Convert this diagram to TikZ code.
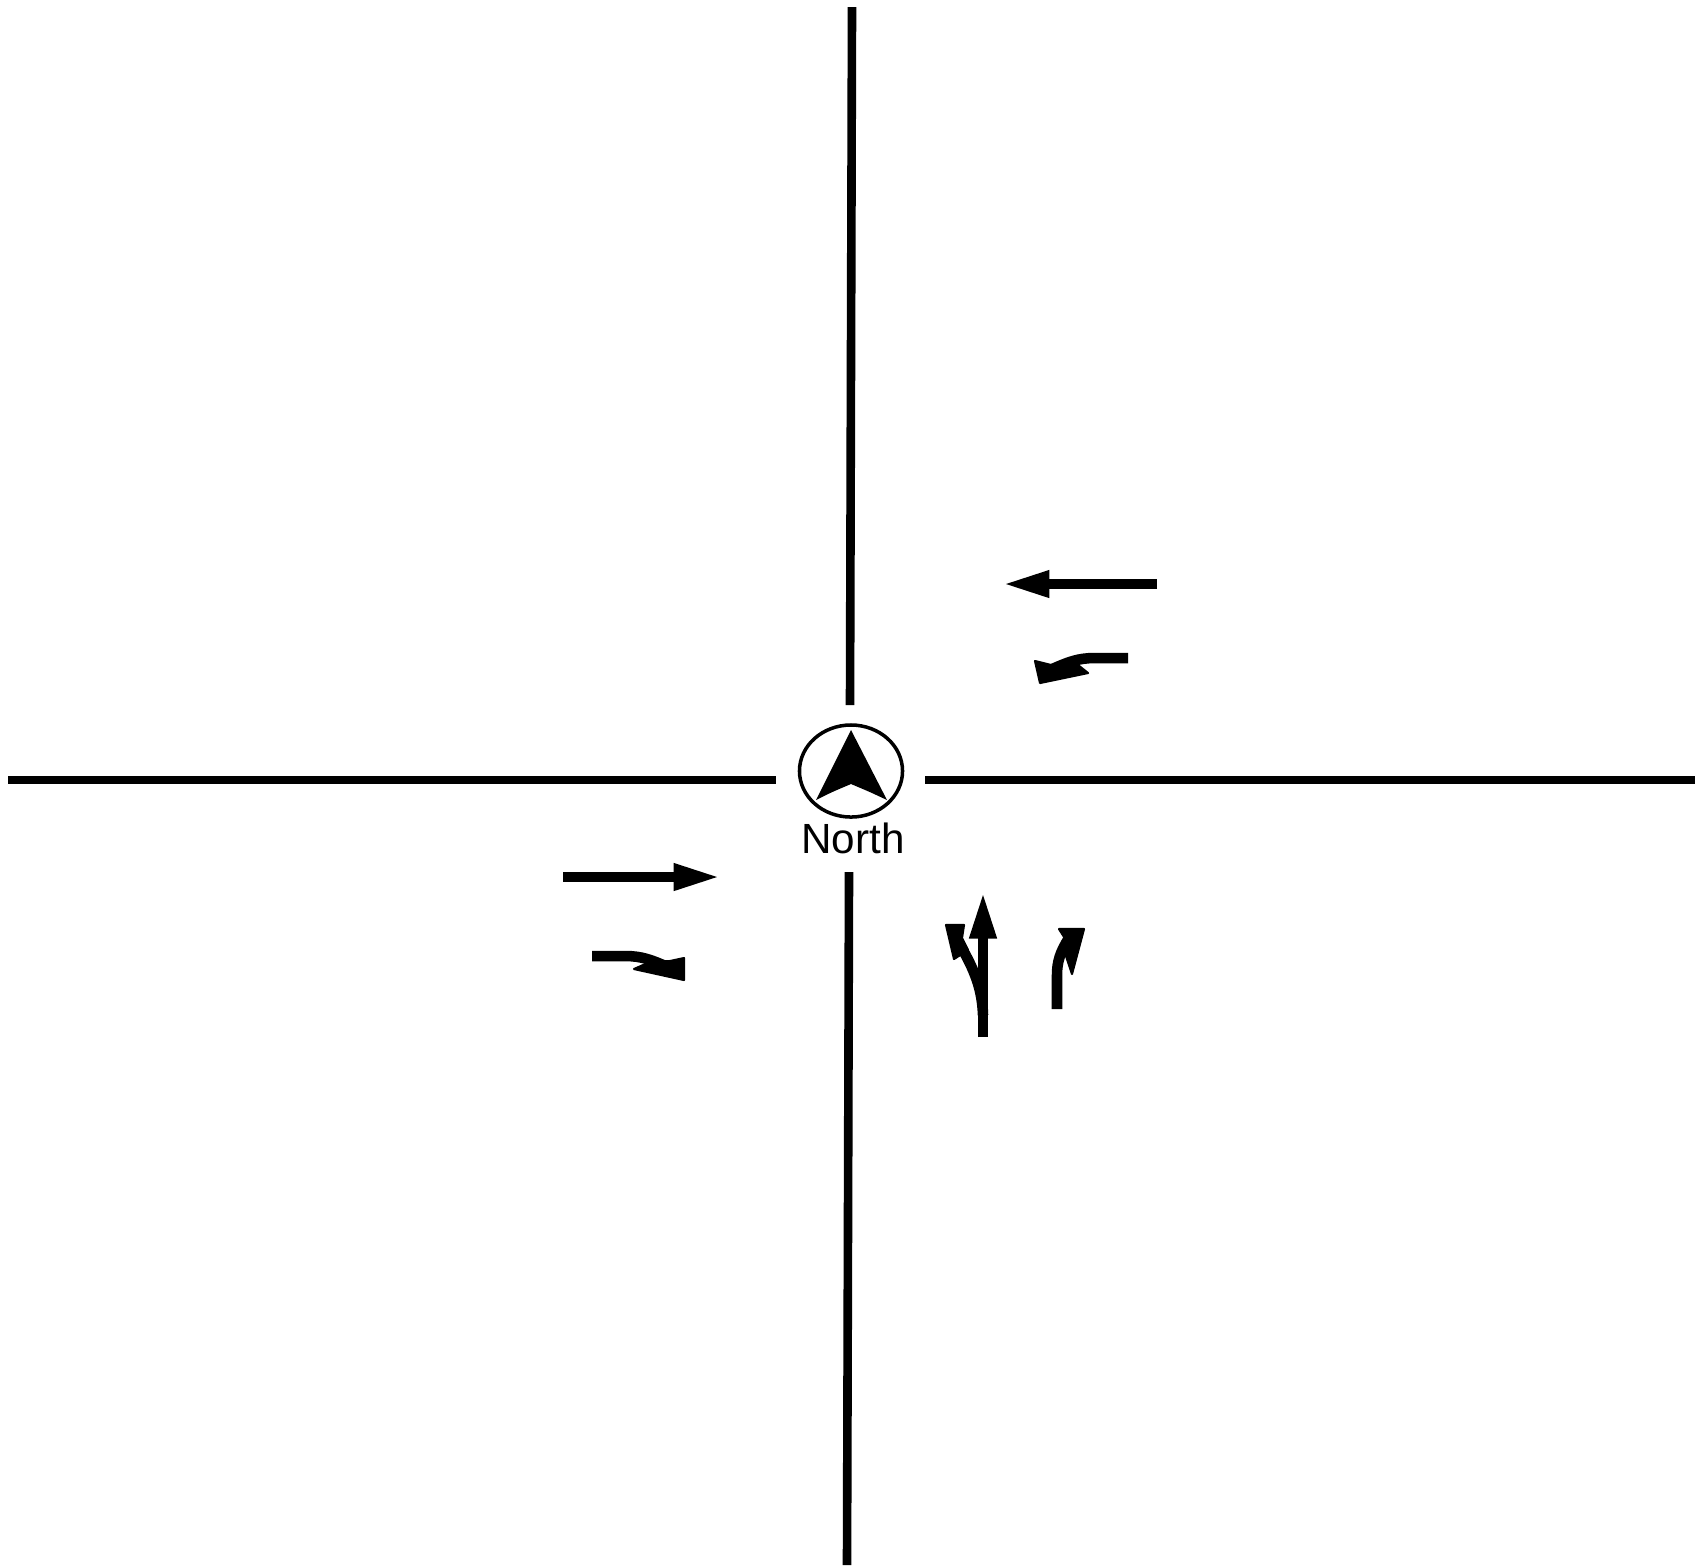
\documentclass[tikz,border=0pt]{standalone}
\usepackage{fontspec}
\setmainfont{Liberation Sans}
\usetikzlibrary{arrows.meta, shapes.geometric}

\begin{document}
\begin{tikzpicture}[x=0.01cm, y=-0.01cm]
  \tikzset{
    road_line/.style={line width=2.45pt, black},
    lane_line/.style={line width=3pt, black},
    lane_arrow/.style={lane_line, -{Triangle[length=13.5pt, width=7pt]}},
    turn_head/.style={fill=black, draw=black, line width=0.6pt, line join=round},
    compass_ring/.style={ellipse, draw, line width=1pt, minimum width=1.03cm, minimum height=0.92cm, inner sep=0pt},
    compass_label/.style={draw=none, fill=none, font=\fontsize{12pt}{13pt}\selectfont, inner sep=0pt}
  }

  % Bounding box
  \useasboundingbox (0,0) rectangle (1697,1565);

  % Road ends
  \coordinate (north_top) at (852,7);
  \coordinate (north_bottom) at (850,705);
  \coordinate (south_top) at (849,872);
  \coordinate (south_bottom) at (847,1565);
  \coordinate (west_left) at (8,780);
  \coordinate (west_right) at (776,780);
  \coordinate (east_left) at (925,780);
  \coordinate (east_right) at (1695,780);

  \draw[road_line] (north_top) -- (north_bottom);
  \draw[road_line] (south_top) -- (south_bottom);
  \draw[road_line] (west_left) -- (west_right);
  \draw[road_line] (east_left) -- (east_right);

  % Compass
  \node[compass_ring] (compass) at (851,771) {};
  \fill (851,730) -- (887,800) .. controls (870,792) .. (851,784) .. controls (832,792) .. (816,800) -- cycle;
  \node[compass_label] (north_label) at (853,838) {North};

  % Westbound lanes
  \coordinate (wb_tail) at (1157,584);
  \coordinate (wb_tip) at (1002,584);
  \draw[lane_arrow] (wb_tail) -- (wb_tip);
  \coordinate (wl_tail) at (1128,658);
  \draw[lane_line] (wl_tail) -- (1095,658) .. controls (1078,658) and (1068,662) .. (1050,670);
  \fill[turn_head] (1035,661) -- (1055,666) -- (1078,665) -- (1088,673) -- (1040,683) -- cycle;

  % Eastbound lanes
  \coordinate (eb_tail) at (563,877);
  \coordinate (eb_tip) at (721,877);
  \draw[lane_arrow] (eb_tail) -- (eb_tip);
  \coordinate (er_tail) at (592,956);
  \draw[lane_line] (er_tail) -- (625,956) .. controls (642,956) and (652,960) .. (670,968);
  \fill[turn_head] (684,958) -- (670,961) -- (650,962) -- (634,969) -- (684,980) -- cycle;

  % Northbound lanes
  \coordinate (nb_tail) at (983,1037);
  \coordinate (nb_tip) at (983,891);
  \draw[lane_arrow] (nb_tail) -- (nb_tip);
  \draw[lane_line] (983,1015) .. controls (982,985) and (972,965) .. (956,938);
  \fill[turn_head] (946,925) -- (964,925) -- (962,938) -- (968,950) -- (954,959) -- cycle;
  \coordinate (nr_tail) at (1057,1009);
  \draw[lane_line] (nr_tail) -- (1057,975) .. controls (1057,962) and (1060,952) .. (1069,938);
  \fill[turn_head] (1059,929) -- (1084,929) -- (1072,974) -- (1064,950) -- (1066,940) -- cycle;
\end{tikzpicture}
\end{document}
